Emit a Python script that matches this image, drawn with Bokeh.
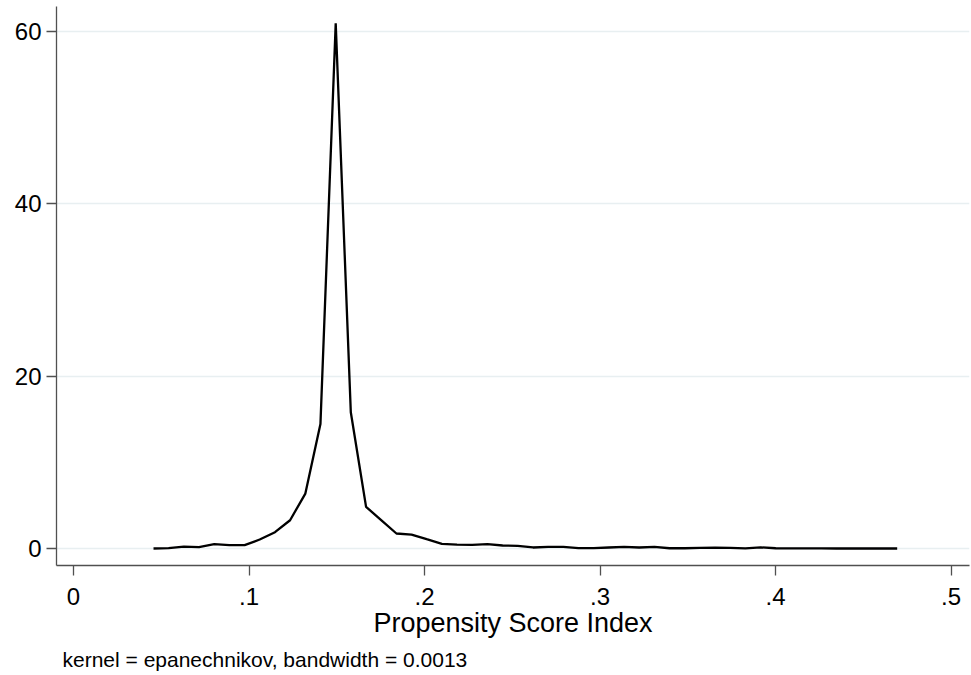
from bokeh.plotting import figure
from bokeh.models import Range1d, FixedTicker, Title, ColumnDataSource
from bokeh.embed import file_html
from bokeh.resources import INLINE

# Kernel density estimate (50 evaluation points)
score = [0.0456, 0.0542, 0.0629, 0.0715, 0.0802, 0.0888, 0.0975, 0.1061, 0.1148, 0.1234,
         0.1321, 0.1407, 0.1494, 0.1580, 0.1667, 0.1753, 0.1840, 0.1926, 0.2012, 0.2099,
         0.2185, 0.2272, 0.2358, 0.2445, 0.2531, 0.2618, 0.2704, 0.2791, 0.2877, 0.2964,
         0.3050, 0.3137, 0.3223, 0.3310, 0.3396, 0.3483, 0.3569, 0.3656, 0.3742, 0.3828,
         0.3915, 0.4001, 0.4088, 0.4174, 0.4261, 0.4347, 0.4434, 0.4520, 0.4607, 0.4693]
density = [0.0, 0.04, 0.23, 0.15, 0.5, 0.39, 0.39, 1.04, 1.89, 3.28,
           6.37, 14.43, 60.9, 15.8, 4.83, 3.3, 1.74, 1.62, 1.08, 0.54,
           0.46, 0.43, 0.5, 0.35, 0.31, 0.12, 0.2, 0.2, 0.04, 0.04,
           0.12, 0.2, 0.12, 0.18, 0.03, 0.03, 0.08, 0.1, 0.08, 0.02,
           0.13, 0.03, 0.02, 0.01, 0.01, 0.0, 0.0, 0.0, 0.0, 0.0]

x_ticks = [0, 0.1, 0.2, 0.3, 0.4, 0.5]
x_tick_labels = ["0", ".1", ".2", ".3", ".4", ".5"]
y_ticks = [0, 20, 40, 60]
x_title = "Propensity Score Index"
note = "kernel = epanechnikov, bandwidth = 0.0013"

FONT = "Liberation Sans"

p = figure(width=970, height=675, output_backend="svg", toolbar_location=None,
           x_range=Range1d(-0.00968, 0.5105), y_range=Range1d(-1.97, 62.86),
           min_border_left=56, min_border_right=1, min_border_top=6, min_border_bottom=109)
p.outline_line_color = None
p.background_fill_color = "white"
p.border_fill_color = "white"

src = ColumnDataSource(data=dict(x=score, y=density))
p.line("x", "y", source=src, line_color="black", line_width=2.3)

# axes
p.xaxis.ticker = FixedTicker(ticks=x_ticks)
p.xaxis.major_label_overrides = {t: l for t, l in zip(x_ticks, x_tick_labels)}
p.yaxis.ticker = FixedTicker(ticks=y_ticks)
for ax in (p.xaxis, p.yaxis):
    ax.axis_line_color = "#505050"
    ax.axis_line_width = 1.3
    ax.major_tick_line_color = "#505050"
    ax.major_tick_line_width = 1.3
    ax.major_tick_in = 0
    ax.major_tick_out = 10
    ax.minor_tick_line_color = None
    ax.major_label_text_font = FONT
    ax.major_label_text_font_size = "24px"
    ax.major_label_text_color = "black"
p.yaxis.major_label_standoff = 5
p.xaxis.major_label_standoff = 12
p.xaxis.axis_label = x_title
p.xaxis.axis_label_text_font = FONT
p.xaxis.axis_label_text_font_size = "27px"
p.xaxis.axis_label_text_font_style = "normal"
p.xaxis.axis_label_text_color = "black"
p.xaxis.axis_label_standoff = 0

p.xgrid.grid_line_color = None
p.ygrid.ticker = FixedTicker(ticks=y_ticks)
p.ygrid.grid_line_color = "#e8eff1"
p.ygrid.grid_line_width = 1.6

p.add_layout(Title(text=note, text_font=FONT, text_font_size="21px", text_font_style="normal",
                   text_color="black", align="left", offset=6, standoff=10), "below")

open("out.html", "w").write(file_html(p, INLINE))
